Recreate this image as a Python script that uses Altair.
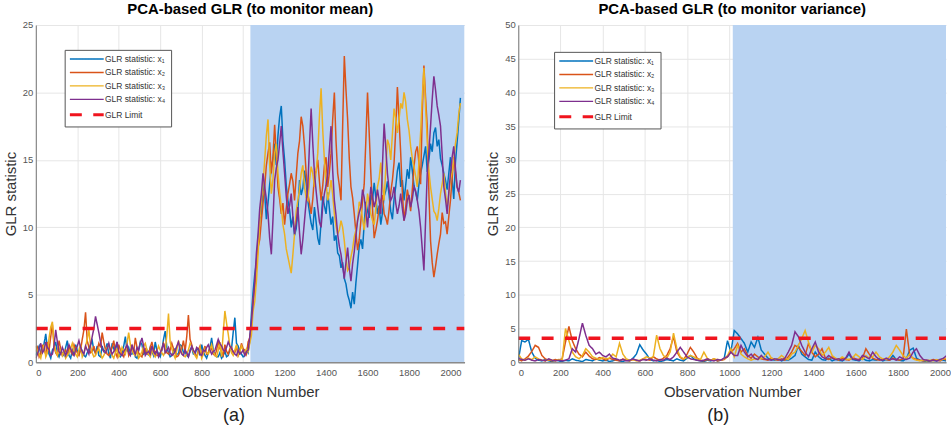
import altair as alt
import pandas as pd

MEAN_STEP = 8        # observations between stored samples, panel (a)
VAR_STEP = 16        # observations between stored samples, panel (b)
MEAN_SHIFT = 1035    # fault introduced from this observation on (shaded), panel (a)
VAR_SHIFT = 1017     # same for panel (b)

SERIES = ["GLR statistic: x₁", "GLR statistic: x₂", "GLR statistic: x₃", "GLR statistic: x₄"]
LIMIT_NAME = "GLR Limit"
COLORS = ["#0072BD", "#D95319", "#EDB120", "#7E2F8E", "#F0141E"]
SHADE = "#b9d3f2"

X_TICKS = [0, 200, 400, 600, 800, 1000, 1200, 1400, 1600, 1800, 2000]
Y_TICKS_MEAN = [0, 5, 10, 15, 20, 25]
Y_TICKS_VAR = [0, 5, 10, 15, 20, 25, 30, 35, 40, 45, 50]

MEAN_LIMIT = 2.5
VAR_LIMIT = 3.55

# ---- panel (a): GLR monitoring the mean (obs 0..2048, every 8) ----
mean_x1 = [
    0.5, 0.9, 1.2, 0.6, 0.8, 1.4, 2.1, 1.0, 0.6, 0.3, 0.9, 1.1, 1.5, 0.7, 0.4, 0.8, 0.7, 0.5, 1.1, 1.6, 0.5, 0.3, 0.9, 0.6, 1.3, 0.9,
    0.6, 1.1, 0.8, 0.5, 0.4, 0.7, 1.0, 1.3, 1.6, 0.9, 0.7, 1.2, 0.5, 0.4, 1.2, 0.8, 0.9, 1.4, 0.6, 0.3, 1.4, 1.0, 0.8, 1.5, 0.5, 0.4,
    0.7, 1.2, 1.9, 0.8, 1.1, 0.6, 0.6, 1.0, 0.4, 0.3, 0.9, 1.5, 1.3, 0.6, 0.7, 0.9, 0.5, 1.1, 0.8, 0.5, 1.5, 0.9, 0.6, 0.4, 0.9, 1.7,
    2.3, 1.1, 0.7, 0.4, 0.5, 0.9, 1.0, 0.6, 0.6, 1.3, 1.2, 0.7, 0.8, 0.5, 0.4, 0.9, 1.1, 0.6, 0.6, 1.0, 0.9, 0.5, 1.3, 0.8, 0.5, 0.3,
    0.7, 1.1, 1.8, 0.9, 0.6, 0.4, 0.4, 0.7, 0.3, 0.5, 0.8, 0.4, 0.5, 0.9, 1.0, 2.2, 3.3, 1.4, 1.2, 0.8, 0.6, 0.4, 0.5, 0.9, 0.7,
    1.6, 3.5, 5.2, 6.5, 7.4, 9.0, 10.6, 11.0, 13.4, 12.5, 10.6, 11.8, 13.2, 14.5, 15.0, 16.2,
    14.6, 16.8, 18.2, 19.0, 16.4, 15.0, 13.1, 12.0, 11.3, 10.0, 10.8, 9.4, 9.9, 11.2, 13.5, 12.4,
    12.9, 14.2, 13.3, 12.0, 11.1, 10.3, 9.8, 11.5, 10.4, 9.2, 8.7, 10.4, 12.3, 11.6, 11.0, 12.6,
    11.4, 10.2, 10.8, 9.0, 9.4, 8.1, 7.9, 7.0, 7.4, 6.2, 5.8, 5.0, 4.6, 4.0, 5.2, 4.3,
    5.9, 7.2, 8.6, 9.1, 8.4, 10.3, 11.9, 11.2, 10.7, 12.4, 12.0, 13.3, 12.2, 11.0, 11.6, 10.2,
    11.1, 12.3, 12.7, 13.4, 12.4, 11.2, 10.6, 12.1, 13.0, 14.2, 14.8, 13.0, 13.5, 12.0, 13.1, 14.3,
    13.6, 15.2, 14.2, 13.1, 12.6, 12.0, 13.2, 14.0, 14.6, 15.3, 16.0, 14.1, 15.0, 16.2, 15.6, 17.0,
    17.4, 16.0, 16.5, 15.1, 14.6, 14.0, 13.5, 12.8, 14.0, 15.2, 13.6, 12.1, 14.8, 16.3, 17.9, 19.6,
]
mean_x2 = [
    0.8, 1.1, 0.4, 0.7, 1.3, 0.9, 0.6, 1.5, 0.9, 1.9, 2.8, 1.2, 0.7, 0.5, 1.6, 1.0, 0.5, 0.7, 0.9, 0.5, 1.2, 0.8, 0.6, 1.3, 1.0, 0.7,
    0.5, 0.9, 1.7, 2.4, 3.7, 1.6, 1.1, 0.7, 0.8, 1.2, 0.6, 0.9, 1.4, 1.1, 2.2, 1.5, 0.9, 0.6, 0.5, 0.8, 1.1, 1.6, 0.7, 0.4, 1.3, 0.9,
    0.6, 0.4, 0.9, 1.3, 0.5, 0.8, 1.2, 0.7, 1.8, 1.1, 0.7, 0.5, 0.4, 0.9, 1.0, 0.6, 0.6, 1.1, 1.5, 0.9, 0.8, 0.5, 0.5, 0.7, 0.9, 1.4,
    1.1, 0.7, 0.6, 0.9, 1.4, 1.0, 0.7, 0.4, 0.5, 0.8, 1.0, 1.6, 0.8, 1.9, 3.5, 1.7, 1.3, 0.8, 0.6, 0.4, 0.9, 1.2, 0.5, 0.8, 1.2, 0.6,
    0.7, 1.1, 1.0, 0.6, 0.5, 0.9, 1.6, 1.0, 0.8, 0.5, 1.3, 0.8, 0.6, 1.0, 1.1, 0.7, 0.7, 1.2, 0.5, 0.8, 1.4, 1.0, 0.9, 0.6, 1.5,
    1.8, 2.5, 4.6, 5.5, 7.2, 8.5, 9.1, 10.5, 11.8, 13.0, 14.6, 15.5, 16.3, 14.0, 15.2, 17.6,
    15.4, 13.0, 12.1, 11.0, 11.8, 10.2, 11.4, 12.5, 13.2, 14.0, 13.4, 12.0, 13.8, 15.5, 16.4, 18.2,
    17.5, 16.0, 14.0, 12.5, 11.8, 11.0, 12.1, 13.8, 14.2, 15.0, 13.4, 12.0, 13.1, 14.6, 15.2, 13.0,
    14.1, 15.5, 18.0, 20.0, 16.4, 14.0, 13.1, 12.0, 17.5, 22.7, 20.2, 18.0, 15.1, 13.0, 12.2, 11.0,
    9.6, 8.3, 9.1, 10.5, 12.0, 13.2, 16.5, 20.0, 17.0, 14.0, 11.4, 9.2, 9.8, 10.5, 11.5, 12.0,
    12.4, 11.0, 10.7, 10.2, 11.3, 12.6, 13.5, 14.8, 17.2, 20.4, 18.0, 15.5, 12.6, 10.5, 11.5, 12.8,
    12.1, 11.2, 12.8, 14.5, 15.6, 16.0, 14.8, 13.2, 18.5, 22.0, 19.6, 17.5, 12.5, 9.0, 7.4, 6.3,
    7.1, 8.0, 8.8, 9.5, 11.1, 10.3, 10.4, 9.5, 10.8, 12.0, 13.6, 15.2, 14.1, 13.0, 12.6, 12.0,
]
mean_x3 = [
    1.2, 0.8, 0.6, 0.3, 0.9, 1.3, 0.4, 0.7, 1.8, 2.6, 3.0, 1.4, 0.8, 0.5, 1.1, 0.8, 0.5, 0.9, 0.3, 0.5, 0.7, 1.0, 1.4, 0.9, 0.6, 0.4,
    0.9, 1.3, 0.4, 0.7, 1.2, 1.7, 2.4, 1.2, 0.7, 0.4, 0.5, 0.8, 1.0, 0.6, 0.3, 0.5, 0.8, 1.1, 1.3, 0.8, 0.5, 0.3, 0.7, 1.0, 0.4, 0.6,
    1.1, 0.8, 0.6, 1.4, 2.2, 1.3, 0.9, 0.6, 0.5, 0.8, 0.3, 0.5, 0.8, 1.2, 1.4, 0.9, 0.6, 0.4, 0.9, 0.6, 0.4, 0.8, 1.2, 0.9, 0.7, 0.5,
    0.8, 2.0, 3.6, 1.5, 1.0, 0.6, 0.3, 0.9, 1.6, 1.1, 0.7, 0.5, 0.4, 0.6, 0.9, 1.4, 1.2, 0.8, 0.5, 0.3, 0.8, 1.1, 0.3, 0.6, 1.0, 0.7,
    0.6, 0.9, 1.3, 0.8, 0.5, 0.4, 0.9, 1.5, 0.4, 2.2, 3.8, 2.9, 2.1, 1.2, 0.7, 0.5, 0.9, 1.3, 0.5, 0.8, 1.2, 0.9, 0.6, 1.0, 0.8,
    1.4, 2.0, 3.8, 4.5, 6.0, 8.0, 10.4, 12.0, 13.2, 15.0, 16.8, 18.0, 14.6, 12.5, 13.6, 15.5,
    16.2, 14.0, 12.6, 11.5, 10.2, 9.5, 8.4, 7.8, 7.2, 6.6, 8.0, 9.5, 11.2, 12.0, 12.8, 14.0,
    14.6, 13.0, 12.2, 12.0, 13.4, 14.5, 14.0, 13.0, 14.1, 15.5, 18.2, 20.3, 17.2, 15.0, 13.3, 12.0,
    12.6, 13.5, 12.4, 11.0, 10.1, 9.5, 9.8, 10.5, 10.0, 9.0, 7.7, 6.8, 7.0, 7.8, 8.4, 9.3,
    9.8, 10.5, 11.9, 11.5, 10.6, 9.8, 11.0, 12.5, 11.8, 11.0, 10.5, 10.2, 11.4, 13.0, 13.6, 14.8,
    13.2, 12.0, 14.3, 16.5, 16.1, 15.0, 16.9, 18.8, 18.1, 17.0, 18.0, 19.2, 18.8, 20.0, 19.3, 18.0,
    17.2, 16.0, 15.1, 14.5, 13.8, 13.0, 14.8, 17.0, 19.6, 21.8, 18.9, 16.5, 14.2, 13.0, 12.1, 11.2,
    11.0, 10.5, 11.4, 12.5, 13.2, 14.0, 12.6, 11.5, 12.4, 13.5, 14.1, 15.0, 16.2, 17.0, 18.4, 19.2,
]
mean_x4 = [
    0.3, 0.6, 1.0, 1.4, 0.7, 0.9, 1.5, 1.1, 0.9, 0.5, 0.6, 1.2, 2.4, 1.5, 0.8, 0.6, 1.1, 0.8, 0.5, 0.9, 1.3, 1.0, 0.7, 0.5, 0.9, 1.2,
    1.6, 1.1, 0.8, 0.6, 1.2, 0.9, 0.6, 1.3, 1.9, 2.5, 3.4, 2.8, 2.2, 1.5, 1.0, 0.8, 0.7, 1.0, 1.4, 0.9, 0.6, 0.8, 1.1, 1.5, 0.8, 0.6,
    0.5, 0.8, 1.0, 1.3, 0.7, 0.5, 1.3, 0.9, 0.6, 1.1, 0.9, 1.4, 1.8, 1.2, 0.5, 0.7, 0.8, 0.6, 1.2, 0.8, 0.6, 0.9, 0.4, 0.7, 1.0, 1.4,
    0.7, 0.9, 1.1, 0.7, 0.5, 0.6, 0.8, 1.2, 1.5, 0.9, 0.6, 0.5, 0.9, 0.7, 0.4, 0.8, 1.2, 0.9, 0.7, 1.1, 1.0, 0.6, 0.5, 0.9, 0.8, 1.1,
    1.3, 0.9, 0.6, 0.8, 0.9, 1.3, 1.7, 1.4, 1.2, 0.9, 0.8, 1.1, 1.5, 1.2, 1.0, 0.8, 0.6, 0.5, 0.9, 0.6, 0.7, 0.9, 0.5, 0.8, 0.9,
    1.9, 3.0, 4.4, 6.0, 8.1, 9.5, 11.4, 12.5, 14.0, 13.0, 12.1, 11.0, 9.2, 8.0, 10.6, 13.5,
    14.4, 15.0, 16.2, 17.5, 15.6, 14.0, 12.3, 11.0, 11.6, 12.5, 10.8, 9.5, 10.3, 11.5, 9.6, 8.0,
    9.1, 10.5, 11.9, 13.0, 16.1, 18.8, 16.2, 14.0, 12.7, 11.5, 10.4, 10.0, 11.6, 12.5, 13.1, 14.0,
    15.8, 17.5, 14.2, 12.0, 10.9, 9.5, 8.6, 8.0, 7.1, 6.2, 7.4, 8.5, 7.0, 6.0, 7.3, 8.2,
    9.4, 10.5, 11.1, 11.5, 12.8, 12.2, 11.2, 10.0, 11.6, 13.0, 12.3, 11.5, 12.0, 12.8, 12.0, 11.0,
    14.6, 17.7, 15.9, 14.0, 12.8, 12.0, 12.3, 13.0, 11.8, 11.0, 11.6, 12.5, 11.4, 10.5, 11.0, 12.0,
    12.4, 11.5, 12.1, 13.0, 12.7, 12.0, 11.2, 10.0, 8.4, 6.8, 10.5, 14.0, 15.6, 17.5, 19.5, 21.2,
    20.2, 19.0, 18.3, 17.5, 15.4, 13.0, 12.1, 11.0, 12.6, 14.0, 15.2, 16.0, 14.4, 13.0, 12.6, 13.5,
]

# ---- panel (b): GLR monitoring the variance (obs 0..2048, every 16) ----
var_x1 = [
    0.3, 3.2, 3.0, 3.4, 1.5, 0.6, 0.3, 0.2, 0.4, 0.2, 0.1, 0.3, 0.2,
    0.1, 0.3, 0.2, 0.5, 0.3, 0.2, 0.1, 0.4, 0.3, 0.2, 0.5, 0.3, 0.2,
    0.3, 0.1, 0.2, 0.4, 0.2, 0.1, 0.3, 0.2, 0.6, 1.2, 2.6, 1.8, 1.2,
    0.4, 0.2, 0.3, 0.1, 0.2, 0.4, 0.3, 0.2, 0.5, 0.3, 0.2, 0.6, 1.0,
    0.5, 0.3, 0.2, 0.1, 0.3, 0.2, 0.4, 0.2, 0.3, 0.5, 3.2, 1.5, 4.7,
    4.2, 3.5, 2.8, 1.5, 3.0, 2.2, 3.7, 1.8,
    1.2, 0.6, 0.4, 0.3, 0.5, 0.2, 0.4, 0.3,
    0.6, 1.0, 2.5, 1.2, 0.8, 0.4, 0.3, 1.5,
    0.8, 0.4, 0.3, 0.6, 0.2, 0.4, 0.3, 0.2,
    0.5, 1.2, 0.4, 0.3, 0.2, 0.6, 0.3, 0.2,
    0.4, 0.3, 0.5, 0.2, 0.4, 0.3, 1.0, 0.4,
    0.3, 0.2, 0.5, 1.8, 2.1, 0.6, 0.3, 0.2,
    0.1, 0.2, 0.3, 0.2, 0.4, 0.3, 0.2, 0.3,
]
var_x2 = [
    0.4, 0.2, 0.5, 0.9, 1.6, 2.5, 2.2, 1.0, 0.5, 0.3, 0.2, 0.4, 0.3,
    0.5, 3.0, 5.3, 3.2, 2.0, 1.2, 0.8, 1.5, 0.9, 0.5, 0.4, 0.7, 0.5,
    0.3, 0.6, 0.4, 0.3, 0.2, 0.5, 0.3, 0.2, 0.4, 0.3, 0.2, 0.5, 0.4,
    0.3, 0.8, 0.5, 0.3, 0.6, 1.0, 2.0, 3.8, 1.5, 0.7, 0.4, 1.2, 2.2,
    1.5, 0.6, 0.3, 0.2, 0.4, 0.3, 0.5, 0.2, 0.3, 0.4, 0.8, 1.5, 2.0,
    2.8, 1.5, 2.0, 1.0, 0.6, 1.2, 0.8, 0.5,
    0.4, 0.3, 0.6, 0.4, 0.3, 0.5, 0.3, 0.8,
    1.5, 2.5, 2.2, 1.6, 1.0, 2.8, 1.5, 0.8,
    1.2, 2.0, 0.6, 0.4, 0.8, 0.5, 0.3, 0.6,
    0.4, 0.3, 0.7, 0.5, 0.4, 0.6, 2.0, 1.2,
    0.6, 0.4, 0.3, 0.5, 0.4, 0.3, 0.6, 0.4,
    0.3, 0.5, 4.9, 1.0, 0.6, 0.4, 0.3, 0.2,
    0.3, 0.2, 0.4, 0.3, 0.2, 0.5, 0.3, 0.4,
]
var_x3 = [
    1.2, 0.5, 0.3, 0.6, 0.4, 0.8, 0.5, 0.3, 0.2, 0.4, 0.3, 0.2, 0.4,
    0.3, 5.0, 3.2, 1.5, 0.8, 0.5, 1.0, 2.0, 1.5, 0.8, 0.6, 0.4, 0.7,
    0.5, 0.6, 1.2, 0.8, 2.8, 1.2, 0.5, 0.3, 0.4, 0.2, 0.3, 0.5, 0.8,
    0.6, 0.8, 4.0, 2.0, 1.0, 0.6, 1.5, 4.3, 2.0, 0.8, 0.5, 0.7, 1.0,
    0.8, 0.5, 0.4, 1.5, 0.6, 0.3, 0.5, 0.4, 0.3, 0.5, 1.0, 2.0, 0.8,
    2.5, 1.2, 0.8, 0.5, 0.3, 0.5, 0.4, 0.6,
    0.8, 1.5, 0.6, 0.4, 0.5, 1.0, 0.6, 0.4,
    1.2, 1.5, 2.5, 3.5, 4.7, 3.0, 1.5, 2.5,
    2.0, 1.0, 1.5, 2.2, 1.0, 0.6, 0.4, 0.8,
    0.5, 0.4, 0.6, 1.2, 0.8, 0.4, 1.0, 0.6,
    0.8, 1.5, 0.8, 0.5, 0.4, 0.8, 1.5, 2.5,
    1.8, 1.0, 0.6, 1.2, 0.5, 0.3, 0.2, 0.3,
    0.2, 0.3, 0.2, 0.4, 0.3, 0.5, 0.6, 0.8,
]
var_x4 = [
    0.6, 0.4, 0.3, 0.5, 0.3, 0.2, 0.4, 0.3, 0.2, 0.5, 0.3, 0.2, 0.3,
    0.2, 0.3, 0.5, 2.0, 1.5, 3.5, 5.8, 4.0, 2.5, 2.0, 1.2, 1.5, 1.0,
    0.8, 1.2, 0.6, 0.5, 0.3, 0.4, 0.2, 0.3, 0.5, 0.3, 0.2, 0.4, 0.3,
    0.5, 0.3, 0.2, 0.4, 0.3, 0.6, 0.4, 0.8, 1.5, 2.2, 1.5, 0.8, 0.5,
    0.4, 0.3, 0.2, 0.3, 0.5, 0.3, 0.2, 0.4, 0.3, 0.6, 0.8, 1.5, 1.0,
    1.0, 2.5, 1.5, 0.8, 1.2, 0.6, 0.4, 1.0,
    0.5, 0.4, 0.3, 0.5, 0.4, 0.3, 0.6, 1.5,
    2.5, 4.5, 3.8, 2.5, 1.5, 0.8, 2.0, 3.0,
    1.5, 0.8, 0.5, 1.0, 0.6, 0.4, 0.5, 0.3,
    0.6, 1.5, 0.5, 0.4, 0.3, 1.0, 0.8, 0.5,
    1.5, 0.8, 0.4, 0.3, 0.6, 0.4, 0.5, 0.3,
    0.8, 0.5, 0.4, 0.6, 1.5, 2.0, 1.0, 0.4,
    0.3, 0.2, 0.3, 0.2, 0.4, 0.6, 1.0, 0.8,
]

FONT = "Liberation Sans"
PLOT_H = 339
TRACE_W = 1.5
LIMIT_W = 3.5
LIMIT_DASH = [12, 11.5]


def long_frame(traces, step):
    rows = []
    for name, vals in zip(SERIES, traces):
        for i, v in enumerate(vals):
            rows.append({"obs": i * step, "glr": v, "series": name})
    return pd.DataFrame(rows)


def panel(traces, step, shift, limit, xmax, ymax, yticks, title, caption, legend_xy, width):
    data = long_frame(traces, step)
    lim = pd.DataFrame({"obs": [0, xmax], "glr": [limit, limit], "series": [LIMIT_NAME] * 2})
    shade = pd.DataFrame({"start": [shift], "end": [xmax], "lo": [0], "hi": [ymax]})

    xs = alt.Scale(domain=[0, xmax], nice=False, zero=False)
    ys = alt.Scale(domain=[0, ymax], nice=False)

    # grid-only axes sit below the shaded band
    x_grid = alt.Axis(values=X_TICKS, grid=True, gridColor="#e6e6e6", gridWidth=1,
                      labels=False, ticks=False, domain=False, title=None, zindex=0, orient="bottom")
    y_grid = alt.Axis(values=yticks, grid=True, gridColor="#e6e6e6", gridWidth=1,
                      labels=False, ticks=False, domain=False, title=None, zindex=0, orient="left")
    # labelled axes sit above it
    x_axis = alt.Axis(values=X_TICKS, format="d", grid=False, ticks=False,
                      domainColor="#8a8a8a", domainWidth=1.6,
                      labelFont=FONT, labelFontSize=9.5, labelColor="#555555", labelPadding=5,
                      title="Observation Number", titleFont=FONT, titleFontSize=15,
                      titleFontWeight="normal", titleColor="#333333", titlePadding=8,
                      zindex=1, orient="bottom")
    y_axis = alt.Axis(values=yticks, grid=False, ticks=False, domainColor="#777777", domainWidth=1,
                      labelFont=FONT, labelFontSize=9.5, labelColor="#555555", labelPadding=3,
                      title="GLR statistic", titleFont=FONT, titleFontSize=15,
                      titleFontWeight="normal", titleColor="#333333", titlePadding=4,
                      zindex=1, orient="left")

    leg = alt.Legend(title=None, orient="none", legendX=legend_xy[0], legendY=legend_xy[1],
                     symbolType="M-3.4,0L3.4,0", symbolSize=100, symbolOffset=13,
                     symbolStrokeWidth={"expr": f"datum.value == '{LIMIT_NAME}' ? 3 : 1.4"},
                     labelOffset=14, labelFont=FONT, labelFontSize=8.5, labelColor="#333333",
                     labelLimit=300, rowPadding=4.5, padding=5,
                     strokeColor="#555555", fillColor="white")
    domain = SERIES + [LIMIT_NAME]
    enc = dict(
        color=alt.Color("series:N", scale=alt.Scale(domain=domain, range=COLORS), legend=leg),
        strokeDash=alt.StrokeDash("series:N", scale=alt.Scale(domain=domain,
                                  range=[[1, 0], [1, 0], [1, 0], [1, 0], LIMIT_DASH]), legend=leg),
    )

    band = alt.Chart(shade).mark_rect(color=SHADE, clip=True).encode(
        x=alt.X("start:Q", scale=xs, axis=x_grid), x2="end:Q",
        y=alt.Y("lo:Q", scale=ys, axis=y_grid), y2="hi:Q",
    )
    traces_layer = alt.Chart(data).mark_line(clip=True, strokeWidth=TRACE_W).encode(
        x=alt.X("obs:Q", scale=xs, axis=x_axis),
        y=alt.Y("glr:Q", scale=ys, axis=y_axis),
        **enc,
    )
    limit_layer = alt.Chart(lim).mark_line(clip=True, strokeWidth=LIMIT_W).encode(
        x=alt.X("obs:Q", scale=xs, axis=None),
        y=alt.Y("glr:Q", scale=ys, axis=None),
        **enc,
    )
    plot = alt.layer(band, traces_layer, limit_layer).resolve_axis(
        x="independent", y="independent"
    ).properties(
        width=width, height=PLOT_H,
        title=alt.Title(title, font=FONT, fontSize=15, fontWeight="bold", color="black",
                        anchor="middle", offset=3),
    )
    return alt.vconcat(plot).properties(
        title=alt.Title(caption, orient="bottom", font=FONT, fontSize=18, fontWeight="normal",
                        color="#222222", anchor="middle", offset=8)
    )


left = panel([mean_x1, mean_x2, mean_x3, mean_x4], MEAN_STEP, MEAN_SHIFT, MEAN_LIMIT,
             2068, 25, Y_TICKS_MEAN,
             "PCA-based GLR (to monitor mean)", "(a)", (29, 25), 431)
right = panel([var_x1, var_x2, var_x3, var_x4], VAR_STEP, VAR_SHIFT, VAR_LIMIT,
              2028, 50, Y_TICKS_VAR,
              "PCA-based GLR (to monitor variance)", "(b)", (36, 27), 430)

chart = alt.hconcat(left, right, spacing=21).resolve_scale(
    color="independent", strokeDash="independent",
    x="independent", y="independent",
).resolve_legend(
    color="independent", strokeDash="independent"
).properties(
    padding={"left": 3, "top": 1, "right": 0, "bottom": 0}, background="white"
).configure_view(stroke=None)

chart.save("out.html", embed_options={"renderer": "svg", "actions": False})
